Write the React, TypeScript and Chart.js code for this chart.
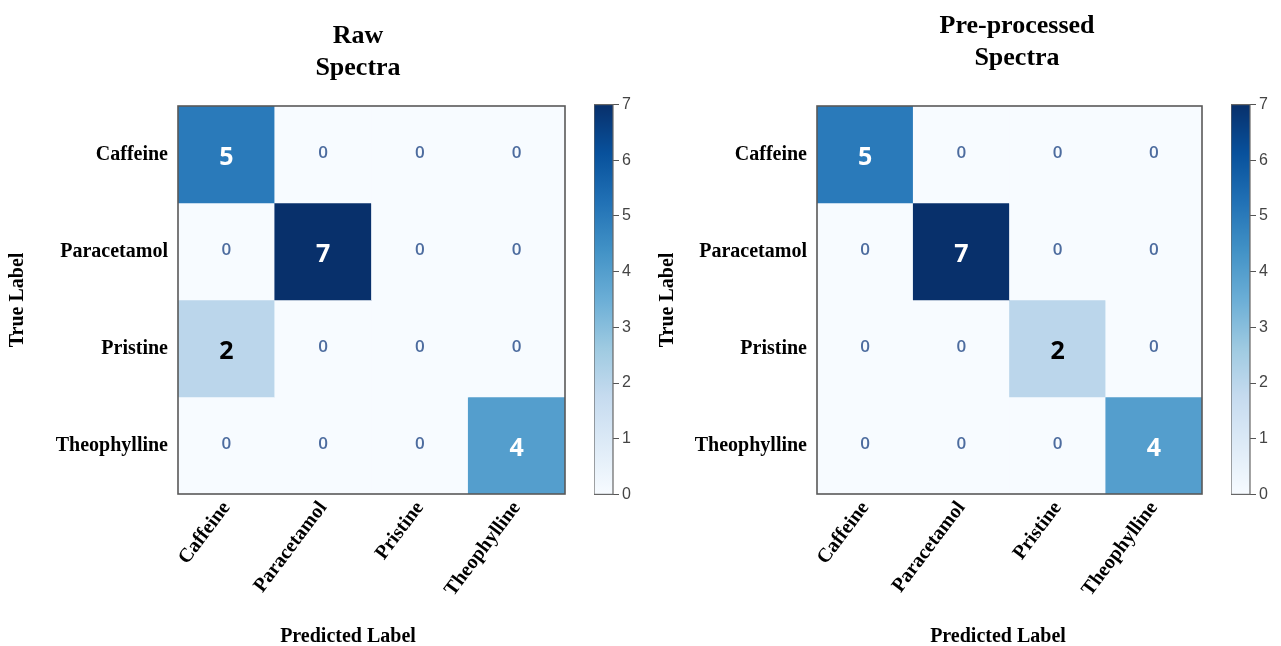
import React, { useEffect, useRef } from "react";
import { Chart, registerables } from "chart.js";

Chart.register(...registerables);

// Class names on both axes of each confusion matrix
const predictedLabels = ["Caffeine", "Paracetamol", "Pristine", "Theophylline"];
const trueLabels = ["Caffeine", "Paracetamol", "Pristine", "Theophylline"];

// Counts per true class (rows) and predicted class (columns)
const rawCounts = [
  [5, 0, 0, 0],
  [0, 7, 0, 0],
  [2, 0, 0, 0],
  [0, 0, 0, 4],
];
const preprocessedCounts = [
  [5, 0, 0, 0],
  [0, 7, 0, 0],
  [0, 0, 2, 0],
  [0, 0, 0, 4],
];

const rawTitle = ["Raw", "Spectra"];
const preprocessedTitle = ["Pre-processed", "Spectra"];

// Colour bar range and ticks
const colorMin = 0;
const colorMax = 7;
const colorbarTicks = [0, 1, 2, 3, 4, 5, 6, 7];

// Sequential "Blues" palette, light to dark
const BLUES = [
  "#f7fbff", "#deebf7", "#c6dbef", "#9ecae1", "#6baed6",
  "#4292c6", "#2171b5", "#08519c", "#08306b",
];

const SERIF = '"Liberation Serif", "Times New Roman", serif';
const ZERO_TEXT = "#4d6c9f";

function hexToRgb(hex: string) {
  const n = parseInt(hex.slice(1), 16);
  return [(n >> 16) & 255, (n >> 8) & 255, n & 255];
}

function bluesColor(value: number) {
  const t = Math.min(1, Math.max(0, (value - colorMin) / (colorMax - colorMin)));
  const pos = t * (BLUES.length - 1);
  const i = Math.min(BLUES.length - 2, Math.floor(pos));
  const f = pos - i;
  const a = hexToRgb(BLUES[i]);
  const b = hexToRgb(BLUES[i + 1]);
  const c = a.map((v, k) => Math.round(v + (b[k] - v) * f));
  return `rgb(${c[0]}, ${c[1]}, ${c[2]})`;
}

// Outline around the plotting area
const framePlugin = {
  id: "frame",
  afterDatasetsDraw(chart: any, _args: any, opts: any) {
    const { ctx, chartArea: a } = chart;
    ctx.save();
    ctx.strokeStyle = opts.color || "#555";
    ctx.lineWidth = opts.width || 1;
    ctx.strokeRect(a.left, a.top, a.right - a.left, a.bottom - a.top);
    ctx.restore();
  },
};

// Count written in the middle of every cell
const cellValuesPlugin = {
  id: "cellValues",
  afterDatasetsDraw(chart: any) {
    const { ctx } = chart;
    const threshold = (colorMin + colorMax) / 2;
    ctx.save();
    ctx.textAlign = "center";
    ctx.textBaseline = "middle";
    chart.data.datasets.forEach((ds: any, d: number) => {
      const meta = chart.getDatasetMeta(d);
      meta.data.forEach((bar: any, i: number) => {
        const value = ds.counts[i];
        const { x, y, base } = bar.getProps(["x", "y", "base"], true);
        const cy = (y + base) / 2;
        if (value === 0) {
          ctx.font = '600 17px "Open Sans", sans-serif';
          ctx.fillStyle = ZERO_TEXT;
          ctx.fillText(String(value), x, cy - 1);
        } else {
          ctx.font = 'bold 25px "Open Sans", sans-serif';
          ctx.fillStyle = value > threshold ? "#ffffff" : "#000000";
          ctx.fillText(String(value), x, cy + 3);
        }
      });
    });
    ctx.restore();
  },
};

// Two-line heading above the matrix and the caption under the x axis
const captionsPlugin = {
  id: "panelCaptions",
  afterDraw(chart: any, _args: any, opts: any) {
    const { ctx, chartArea } = chart;
    const cx = (chartArea.left + chartArea.right) / 2;
    ctx.save();
    ctx.fillStyle = "#000";
    ctx.textAlign = "center";
    ctx.textBaseline = "alphabetic";
    ctx.font = `bold 26px ${SERIF}`;
    opts.header.forEach((line: string, i: number) => {
      ctx.fillText(line, cx + opts.headerShift, opts.headerBaseline + i * 32);
    });
    ctx.font = `bold 20px ${SERIF}`;
    ctx.fillText(opts.xCaption, cx + opts.xCaptionShift, chart.height - 4);
    ctx.restore();
  },
};

type PanelLayout = {
  left: number;
  width: number;
  axisWidth: number;
  padRight: number;
  headerBaseline: number;
  headerShift: number;
  xCaptionShift: number;
  yTitlePad: number;
};

const CANVAS_H = 646;
const PLOT_TOP = 106;
const X_AXIS_H = 152;

function MatrixPanel({ title, counts, layout }: { title: string[]; counts: number[][]; layout: PanelLayout }) {
  const ref = useRef<HTMLCanvasElement>(null);

  useEffect(() => {
    const canvas = ref.current;
    if (!canvas) return;

    const datasets = counts.map((row, r) => ({
      label: trueLabels[r],
      data: row.map(() => [r, r + 1]),
      counts: row,
      backgroundColor: row.map((v) => bluesColor(v)),
      borderWidth: 0,
      barPercentage: 1,
      categoryPercentage: 1,
      grouped: false,
    }));

    const labelFont = { family: SERIF, size: 20, weight: "bold" as const };

    const chart = new Chart(canvas, {
      type: "bar",
      data: { labels: predictedLabels, datasets: datasets as any },
      options: {
        responsive: false,
        animation: false,
        devicePixelRatio: 1,
        layout: { padding: { left: 0, right: layout.padRight, top: PLOT_TOP, bottom: 0 } },
        plugins: {
          legend: { display: false },
          tooltip: { enabled: false },
          frame: { color: "#595959", width: 1.6 },
          panelCaptions: {
            header: title,
            headerBaseline: layout.headerBaseline,
            headerShift: layout.headerShift,
            xCaption: "Predicted Label",
            xCaptionShift: layout.xCaptionShift,
          },
        } as any,
        scales: {
          x: {
            type: "category",
            offset: true,
            grid: { display: false, drawTicks: false },
            border: { display: false },
            afterFit: (scale: any) => {
              scale.height = X_AXIS_H;
            },
            ticks: {
              autoSkip: false,
              minRotation: 53,
              maxRotation: 53,
              padding: 3,
              color: "#000",
              font: labelFont,
            },
          },
          y: {
            type: "linear",
            min: 0,
            max: trueLabels.length,
            reverse: true,
            afterBuildTicks: (scale: any) => {
              scale.ticks = trueLabels.map((_, i) => ({ value: i + 0.5 }));
            },
            afterFit: (scale: any) => {
              scale.width = layout.axisWidth;
            },
            grid: { display: false, drawTicks: false },
            border: { display: false },
            ticks: {
              autoSkip: false,
              padding: 10,
              color: "#000",
              font: labelFont,
              callback: (_v: any, i: number) => trueLabels[i],
            },
            title: {
              display: true,
              text: "True Label",
              color: "#000",
              font: labelFont,
              padding: { top: layout.yTitlePad, bottom: 0 },
            },
          },
        },
      },
      plugins: [framePlugin, cellValuesPlugin, captionsPlugin],
    });

    return () => chart.destroy();
  }, [title, counts, layout]);

  return (
    <canvas
      ref={ref}
      width={layout.width}
      height={CANVAS_H}
      style={{ position: "absolute", left: layout.left, top: 0, width: layout.width, height: CANVAS_H }}
    />
  );
}

const BAR_W = 19;
const BAR_AXIS_W = 40;
const BAR_TOP = 92;
const BAR_H = 415;

function ColorBar({ left }: { left: number }) {
  const ref = useRef<HTMLCanvasElement>(null);

  useEffect(() => {
    const canvas = ref.current;
    if (!canvas) return;

    const chart = new Chart(canvas, {
      type: "bar",
      data: {
        labels: ["count"],
        datasets: [
          {
            data: [[colorMin, colorMax]] as any,
            backgroundColor: (context: any) => {
              const c = context.chart;
              const y = c.scales.y;
              if (!c.chartArea || !y) return BLUES[0];
              const g = c.ctx.createLinearGradient(0, y.getPixelForValue(colorMin), 0, y.getPixelForValue(colorMax));
              BLUES.forEach((col, i) => g.addColorStop(i / (BLUES.length - 1), col));
              return g;
            },
            borderWidth: 0,
            barPercentage: 1,
            categoryPercentage: 1,
          },
        ],
      },
      options: {
        responsive: false,
        animation: false,
        devicePixelRatio: 1,
        layout: { padding: { top: 10, bottom: 10, left: 0, right: 0 } },
        plugins: {
          legend: { display: false },
          tooltip: { enabled: false },
          frame: { color: "#666", width: 1.2 },
        } as any,
        scales: {
          x: { display: false },
          y: {
            position: "right",
            min: colorMin,
            max: colorMax,
            afterBuildTicks: (scale: any) => {
              scale.ticks = colorbarTicks.map((v) => ({ value: v }));
            },
            afterFit: (scale: any) => {
              scale.width = BAR_AXIS_W;
            },
            grid: { drawOnChartArea: false, drawTicks: true, tickLength: 6, color: "#555", lineWidth: 1 },
            border: { display: false },
            ticks: {
              padding: 3,
              color: "#444",
              font: { family: '"Liberation Sans", Arial, sans-serif', size: 16 },
            },
          },
        },
      },
      plugins: [framePlugin],
    });

    return () => chart.destroy();
  }, [left]);

  return (
    <canvas
      ref={ref}
      width={BAR_W + BAR_AXIS_W}
      height={BAR_H}
      style={{ position: "absolute", left, top: BAR_TOP, width: BAR_W + BAR_AXIS_W, height: BAR_H }}
    />
  );
}

const leftLayout: PanelLayout = {
  left: 0,
  width: 580,
  axisWidth: 178,
  padRight: 15,
  headerBaseline: 43,
  headerShift: -13.5,
  xCaptionShift: -23.5,
  yTitlePad: 6,
};

const rightLayout: PanelLayout = {
  left: 640,
  width: 641,
  axisWidth: 177,
  padRight: 79,
  headerBaseline: 33,
  headerShift: 7.5,
  xCaptionShift: -11.5,
  yTitlePad: 16,
};

export default function App() {
  return (
    <div
      style={{
        position: "absolute",
        left: 0,
        top: 0,
        width: 1281,
        height: 646,
        overflow: "hidden",
        background: "#ffffff",
      }}
    >
      <MatrixPanel title={rawTitle} counts={rawCounts} layout={leftLayout} />
      <MatrixPanel title={preprocessedTitle} counts={preprocessedCounts} layout={rightLayout} />
      <ColorBar left={594} />
      <ColorBar left={1231} />
    </div>
  );
}
